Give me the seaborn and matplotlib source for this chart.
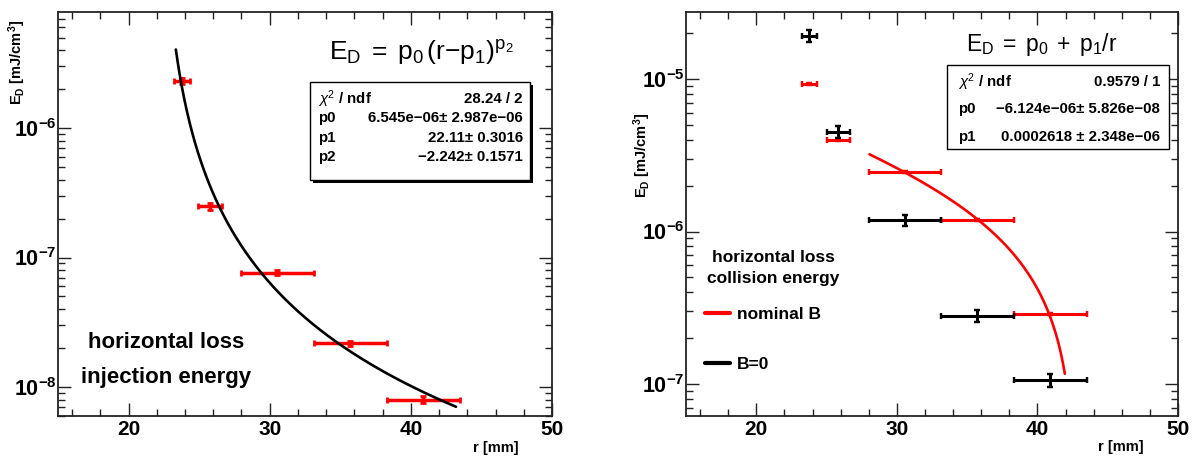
import numpy as np
import pandas as pd
import matplotlib
matplotlib.use("Agg")
import matplotlib.pyplot as plt
import seaborn as sns
from matplotlib import font_manager
from matplotlib.ticker import MultipleLocator, LogLocator, FuncFormatter, NullFormatter
from matplotlib.lines import Line2D
from matplotlib.patches import Rectangle

# ---------------- data ----------------
# left panel: horizontal loss, injection energy
inj_r      = [23.78, 25.76, 30.54, 35.68, 40.84]
inj_r_low  = [23.24, 24.92, 27.95, 33.12, 38.28]
inj_r_high = [24.32, 26.63, 33.12, 38.28, 43.48]
inj_E      = [2.30e-6, 2.48e-7, 7.65e-8, 2.17e-8, 8.0e-9]
inj_E_err  = [0.12e-6, 0.14e-7, 0.35e-8, 0.11e-8, 0.45e-9]
inj_fit_par = [6.545e-6, 22.11, -2.242]          # p0, p1, p2
inj_fit_range = [23.35, 43.2]
inj_stat_labels = [r"$\chi^{2}$ / ndf", "p0", "p1", "p2"]
inj_stat_values = ["28.24 / 2", "6.545e\u221206\u00b1 2.987e\u221206",
                   "22.11\u00b1 0.3016", "\u22122.242\u00b1 0.1571"]

# right panel: horizontal loss, collision energy
col_r      = [23.74, 25.78, 30.58, 35.73, 40.88]
col_r_low  = [23.25, 25.02, 28.05, 33.15, 38.30]
col_r_high = [24.29, 26.65, 33.15, 38.30, 43.54]
nomB_E     = [9.27e-6, 3.96e-6, 2.45e-6, 1.19e-6, 2.89e-7]
nomB_E_err = [0.15e-6, 0.06e-6, 0.03e-6, 0.015e-6, 0.04e-7]
b0_E       = [1.91e-5, 4.52e-6, 1.19e-6, 2.81e-7, 1.06e-7]
b0_E_err   = [0.17e-5, 0.40e-6, 0.10e-6, 0.25e-7, 0.10e-7]
col_fit_par = [-6.124e-6, 2.618e-4]              # p0, p1
col_fit_range = [28.05, 41.95]
col_stat_labels = [r"$\chi^{2}$ / ndf", "p0", "p1"]
col_stat_values = ["0.9579 / 1", "\u22126.124e\u221206\u00b1 5.826e\u221208",
                   "0.0002618 \u00b1 2.348e\u221206"]
legend_labels = ["nominal B", "B=0"]

# ---------------- style ----------------
sns.set_theme(style="ticks")
names = {f.name for f in font_manager.fontManager.ttflist}
narrow = "Liberation Sans Narrow" in names
fam = "Liberation Sans Narrow" if narrow else "Liberation Sans"
S = 1.15 if narrow else 1.0
plt.rcParams["font.family"] = [fam, "DejaVu Sans"]
plt.rcParams["mathtext.fontset"] = "custom"
plt.rcParams["mathtext.rm"] = fam
plt.rcParams["mathtext.sf"] = fam
plt.rcParams["mathtext.it"] = fam + ":italic"
plt.rcParams["mathtext.bf"] = fam + ":bold"
for key in ["text.color", "axes.labelcolor", "xtick.color", "ytick.color"]:
    plt.rcParams[key] = "black"

W, H = 1198, 457
fig = plt.figure(figsize=(W / 100, H / 100), dpi=100, facecolor="white")


def fx(x):
    return x / W


def fy(y):
    return 1 - y / H


def make_axes(x0, x1, y0, y1):
    return fig.add_axes([fx(x0), fy(y1), (x1 - x0) / W, (y1 - y0) / H])


ax1 = make_axes(58, 552, 12, 416)
ax2 = make_axes(686, 1178, 12, 416)


def decade_fmt(v, pos):
    return r"$\mathbf{10^{%d}}$" % int(round(np.log10(v)))


def style_axes(ax, ylim):
    ax.set_yscale("log")
    ax.set_xlim(15, 50)
    ax.set_ylim(*ylim)
    ax.xaxis.set_major_locator(MultipleLocator(10))
    ax.xaxis.set_minor_locator(MultipleLocator(2))
    ax.yaxis.set_major_locator(LogLocator(base=10, numticks=20))
    ax.yaxis.set_minor_locator(LogLocator(base=10, subs=np.arange(2, 10), numticks=20))
    ax.yaxis.set_major_formatter(FuncFormatter(decade_fmt))
    ax.yaxis.set_minor_formatter(NullFormatter())
    ax.tick_params(which="both", direction="in", top=True, right=True,
                   color="#222222", labelcolor="black", width=1.0)
    ax.tick_params(which="major", length=9.5)
    ax.tick_params(which="minor", length=5)
    ax.tick_params(axis="x", which="major", labelsize=15 * S, pad=3)
    ax.tick_params(axis="y", which="major", labelsize=15.5 * S, pad=1)
    for lab in ax.get_xticklabels():
        lab.set_fontweight("bold")
    for sp in ax.spines.values():
        sp.set_color("#222222")
        sp.set_linewidth(1.3)
    ax.set_facecolor("white")
    ax.grid(False)


def draw_points(ax, r, lo, hi, E, Eerr, color, lw):
    r = np.asarray(r)
    xerr = [r - np.asarray(lo), np.asarray(hi) - r]
    ax.errorbar(r, E, xerr=xerr, yerr=Eerr, fmt="none", ecolor=color,
                elinewidth=lw, capsize=2, capthick=lw * 0.8, zorder=3)


# ---------- left panel ----------
draw_points(ax1, inj_r, inj_r_low, inj_r_high, inj_E, inj_E_err, "#ff0000", 2.5)
rl = np.linspace(inj_fit_range[0], inj_fit_range[1], 300)
fit_l = pd.DataFrame({"r": rl, "E": inj_fit_par[0] * (rl - inj_fit_par[1]) ** inj_fit_par[2]})
sns.lineplot(data=fit_l, x="r", y="E", ax=ax1, color="black", lw=1.9, zorder=4)
style_axes(ax1, (5.97e-9, 7.87e-6))
ax1.set_xlabel("r [mm]", fontsize=10.5, fontweight="bold", ha="right")
ax1.xaxis.set_label_coords((519 - 58) / 494, -(441 - 416) / 404)
ax1.set_ylabel(r"$\mathbf{E_{D}}$ [mJ/cm$^{\mathbf{3}}$]", fontsize=10.5 * S, fontweight="bold")
ax1.yaxis.set_label_coords((28 - 58) / 494, (416 - 62) / 404)

fig.text(fx(166), fy(343), "horizontal loss", ha="center", va="center",
         fontsize=16 * S, fontweight="bold")
fig.text(fx(166), fy(377), "injection energy", ha="center", va="center",
         fontsize=16 * S, fontweight="bold")
fig.text(fx(421), fy(60), r"$\mathrm{E_{D}\;=\;p_{0}\,(r{-}p_{1})^{p_{2}}}$",
         ha="center", va="baseline", fontsize=19 * S)

# stats box left (with shadow)
fig.add_artist(Rectangle((fx(313), fy(183)), (533 - 313) / W, (183 - 85) / H,
                         transform=fig.transFigure, facecolor="black", edgecolor="black", lw=0))
fig.add_artist(Rectangle((fx(310), fy(180)), (530 - 310) / W, (180 - 82) / H,
                         transform=fig.transFigure, facecolor="white", edgecolor="black", lw=1.0))
for i, (lab, val) in enumerate(zip(inj_stat_labels, inj_stat_values)):
    y = 99 + i * 19.3
    fig.text(fx(318), fy(y), lab, ha="left", va="center", fontsize=10.8 * S, fontweight="bold")
    fig.text(fx(523), fy(y), val, ha="right", va="center", fontsize=10.8 * S, fontweight="bold")

# ---------- right panel ----------
draw_points(ax2, col_r, col_r_low, col_r_high, nomB_E, nomB_E_err, "#ff0000", 2.2)
draw_points(ax2, col_r, col_r_low, col_r_high, b0_E, b0_E_err, "black", 2.2)
rr = np.linspace(col_fit_range[0], col_fit_range[1], 300)
fit_r = pd.DataFrame({"r": rr, "E": col_fit_par[0] + col_fit_par[1] / rr})
sns.lineplot(data=fit_r, x="r", y="E", ax=ax2, color="#ff0000", lw=1.9, zorder=4)
style_axes(ax2, (6.17e-8, 2.75e-5))
ax2.set_xlabel("r [mm]", fontsize=10.5, fontweight="bold", ha="right")
ax2.xaxis.set_label_coords((1144 - 686) / 492, -(440 - 416) / 404)
ax2.set_ylabel(r"$\mathbf{E_{D}}$ [mJ/cm$^{\mathbf{3}}$]", fontsize=10.5 * S, fontweight="bold")
ax2.yaxis.set_label_coords((653 - 686) / 492, (416 - 155) / 404)

fig.text(fx(773), fy(258), "horizontal loss", ha="center", va="center",
         fontsize=12.5 * S, fontweight="bold")
fig.text(fx(773), fy(279), "collision energy", ha="center", va="center",
         fontsize=12.5 * S, fontweight="bold")
fig.text(fx(1042), fy(51), r"$\mathrm{E_{D}\;=\;p_{0}\;+\;p_{1}/r}$",
         ha="center", va="baseline", fontsize=16.5 * S)

handles = [Line2D([], [], color="#ff0000", lw=3), Line2D([], [], color="black", lw=3)]
ax2.legend(handles=handles, labels=legend_labels, loc="upper left",
           bbox_to_anchor=(fx(705), fy(307)), bbox_transform=fig.transFigure,
           frameon=False, prop={"weight": "bold", "size": 12.5 * S},
           handlelength=1.45, handletextpad=0.4, labelspacing=2.0,
           borderpad=0, borderaxespad=0)

fig.add_artist(Rectangle((fx(947), fy(149)), (1169 - 947) / W, (149 - 65) / H,
                         transform=fig.transFigure, facecolor="white", edgecolor="black", lw=1.0))
for i, (lab, val) in enumerate(zip(col_stat_labels, col_stat_values)):
    y = 82 + i * 27.5
    fig.text(fx(958), fy(y), lab, ha="left", va="center", fontsize=10.8 * S, fontweight="bold")
    fig.text(fx(1160), fy(y), val, ha="right", va="center", fontsize=10.8 * S, fontweight="bold")

fig.savefig("out.png", dpi=100, facecolor="white")
